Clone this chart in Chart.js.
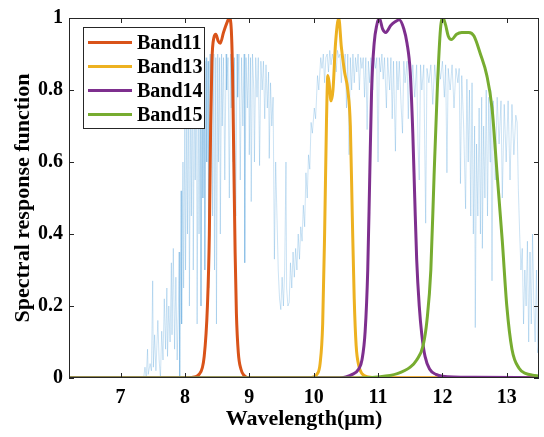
<!DOCTYPE html>
<html>
<head>
<meta charset="utf-8">
<script src="https://cdn.jsdelivr.net/npm/chart.js@4/dist/chart.umd.min.js"></script>
<style>
  html, body { margin: 0; padding: 0; background: #fff; }
  #wrap { width: 544px; height: 437px; }
</style>
</head>
<body>
<div id="wrap"><canvas id="grafico" width="544" height="437"></canvas></div>
<script>
// tick positions
const xTicks = [7, 8, 9, 10, 11, 12, 13];
const yTicks = [0, 0.2, 0.4, 0.6, 0.8, 1];

// atmospheric transmittance (background)
const specWl = [
  6.20, 7.30, 7.36, 7.38, 7.40, 7.42, 7.43, 7.46, 7.48, 7.50,
  7.51, 7.53, 7.55, 7.58, 7.60, 7.62, 7.64, 7.66, 7.68, 7.70,
  7.72, 7.73, 7.75, 7.77, 7.79, 7.80, 7.82, 7.84, 7.86, 7.88,
  7.90, 7.91, 7.92, 7.94, 7.95, 7.97, 7.98, 8.00, 8.01, 8.03,
  8.04, 8.06, 8.07, 8.09, 8.10, 8.12, 8.13, 8.15, 8.16, 8.18,
  8.19, 8.21, 8.22, 8.24, 8.25, 8.27, 8.28, 8.30, 8.31, 8.33,
  8.34, 8.36, 8.37, 8.39, 8.40, 8.42, 8.43, 8.45, 8.46, 8.48,
  8.49, 8.51, 8.52, 8.54, 8.55, 8.57, 8.58, 8.60, 8.62, 8.64,
  8.65, 8.67, 8.69, 8.71, 8.72, 8.74, 8.75, 8.77, 8.79, 8.81,
  8.82, 8.84, 8.86, 8.88, 8.90, 8.92, 8.93, 8.95, 8.97, 8.99,
  9.00, 9.02, 9.03, 9.05, 9.07, 9.08, 9.10, 9.12, 9.14, 9.16,
  9.18, 9.20, 9.22, 9.24, 9.26, 9.28, 9.30, 9.31, 9.33, 9.35,
  9.37, 9.39, 9.41, 9.43, 9.45, 9.47, 9.49, 9.51, 9.53, 9.55,
  9.57, 9.58, 9.60, 9.62, 9.64, 9.66, 9.68, 9.70, 9.72, 9.74,
  9.76, 9.78, 9.80, 9.82, 9.84, 9.86, 9.88, 9.90, 9.92, 9.94,
  9.96, 9.98, 10.01, 10.03, 10.06, 10.08, 10.11, 10.13, 10.15, 10.17,
  10.19, 10.21, 10.23, 10.25, 10.27, 10.29, 10.31, 10.33, 10.35, 10.37,
  10.39, 10.41, 10.43, 10.45, 10.47, 10.49, 10.51, 10.53, 10.55, 10.57,
  10.59, 10.61, 10.63, 10.65, 10.67, 10.69, 10.71, 10.73, 10.75, 10.77,
  10.79, 10.81, 10.83, 10.85, 10.87, 10.89, 10.92, 10.94, 10.96, 10.98,
  11.00, 11.02, 11.04, 11.06, 11.08, 11.10, 11.13, 11.15, 11.18, 11.20,
  11.22, 11.24, 11.27, 11.29, 11.31, 11.33, 11.36, 11.38, 11.40, 11.42,
  11.45, 11.47, 11.49, 11.52, 11.54, 11.57, 11.60, 11.62, 11.64, 11.66,
  11.68, 11.71, 11.74, 11.76, 11.79, 11.82, 11.85, 11.88, 11.91, 11.94,
  11.97, 12.00, 12.03, 12.05, 12.07, 12.09, 12.12, 12.15, 12.18, 12.21,
  12.24, 12.26, 12.28, 12.30, 12.33, 12.36, 12.38, 12.40, 12.42, 12.44,
  12.46, 12.48, 12.50, 12.51, 12.53, 12.55, 12.57, 12.59, 12.61, 12.62,
  12.64, 12.66, 12.68, 12.70, 12.72, 12.74, 12.75, 12.77, 12.79, 12.82,
  12.85, 12.88, 12.91, 12.93, 12.96, 12.99, 13.02, 13.05, 13.08, 13.11,
  13.14, 13.16, 13.18, 13.20, 13.22, 13.24, 13.26, 13.28, 13.30, 13.32,
  13.34, 13.36, 13.38, 13.40, 13.42, 13.44, 13.46, 13.48, 13.50
];
const specT = [
  0, 0, 0, 0.03, 0, 0.08, 0.01, 0.04, 0.02, 0.27,
  0.03, 0.12, 0.02, 0.16, 0.05, 0, 0.13, 0.05, 0.22, 0.08,
  0.25, 0.06, 0.20, 0.10, 0.32, 0.12, 0.36, 0.08, 0.28, 0.05,
  0.20, 0.35, 0, 0.52, 0.15, 0.60, 0.25, 0.71, 0.30, 0.75,
  0.40, 0.80, 0.20, 0.84, 0.45, 0.86, 0.30, 0.87, 0.55, 0.86,
  0.15, 0.87, 0.40, 0.88, 0.20, 0.87, 0.50, 0.88, 0.30, 0.89,
  0.60, 0.88, 0.25, 0.90, 0.70, 0.89, 0.45, 0.90, 0.30, 0.89,
  0.15, 0.90, 0.60, 0.89, 0.40, 0.90, 0.70, 0.89, 0.55, 0.90,
  0.80, 0.89, 0.50, 0.90, 0.75, 0.90, 0.60, 0.89, 0.45, 0.90,
  0.78, 0.90, 0.55, 0.89, 0.70, 0.90, 0.32, 0.89, 0.75, 0.90,
  0.62, 0.89, 0.49, 0.90, 0.80, 0.60, 0.89, 0.78, 0.89, 0.59,
  0.88, 0.80, 0.88, 0.72, 0.87, 0.75, 0.85, 0.61, 0.82, 0.70,
  0.78, 0.33, 0.60, 0.45, 0.30, 0.22, 0.19, 0.28, 0.20, 0.30,
  0.60, 0.25, 0.20, 0.21, 0.32, 0.25, 0.35, 0.28, 0.36, 0.30,
  0.40, 0.33, 0.42, 0.38, 0.48, 0.42, 0.57, 0.50, 0.62, 0.58,
  0.71, 0.68, 0.75, 0.72, 0.84, 0.80, 0.89, 0.86, 0.90, 0.82,
  0.89, 0.90, 0.85, 0.91, 0.87, 0.90, 0.88, 0.90, 0.85, 0.91,
  0.89, 0.90, 0.82, 0.90, 0.87, 0.90, 0.75, 0.90, 0.62, 0.89,
  0.80, 0.90, 0.82, 0.89, 0.85, 0.90, 0.80, 0.89, 0.86, 0.89,
  0.78, 0.89, 0.69, 0.88, 0.82, 0.89, 0.80, 0.89, 0.86, 0.89,
  0.60, 0.89, 0.85, 0.90, 0.83, 0.89, 0.75, 0.89, 0.80, 0.89,
  0.72, 0.88, 0.63, 0.88, 0.80, 0.88, 0.75, 0.68, 0.88, 0.82,
  0.88, 0.72, 0.88, 0.80, 0.87, 0.78, 0.87, 0.65, 0.55, 0.87,
  0.80, 0.87, 0.43, 0.86, 0.82, 0.87, 0.76, 0.87, 0.80, 0.88,
  0.83, 0.88, 0.78, 0.87, 0.57, 0.86, 0.80, 0.87, 0.75, 0.86,
  0.82, 0.86, 0.54, 0.84, 0.70, 0.47, 0.83, 0.60, 0.80, 0.45,
  0.82, 0.40, 0.70, 0.14, 0.65, 0.45, 0.75, 0.40, 0.78, 0.36,
  0.70, 0.50, 0.80, 0.45, 0.78, 0.60, 0.80, 0.27, 0.77, 0.55,
  0.78, 0.65, 0.77, 0.50, 0.76, 0.60, 0.77, 0.55, 0.76, 0.62,
  0.73, 0.71, 0.52, 0.40, 0.30, 0.36, 0.15, 0.30, 0.20, 0.38,
  0.10, 0.35, 0.15, 0.40, 0.20, 0.10, 0.30, 0.07, 0.10
];

// spectral response functions
const band11Wl = [6.2, 8.0, 8.15, 8.22, 8.3, 8.35, 8.38, 8.40, 8.42, 8.45, 8.48, 8.52, 8.55, 8.60, 8.66, 8.69, 8.72, 8.74, 8.76, 8.78, 8.80, 8.83, 8.87, 8.92, 9.0, 13.5];
const band11 = [0, 0, 0.003, 0.01, 0.06, 0.2, 0.4, 0.7, 0.88, 0.945, 0.955, 0.935, 0.93, 0.96, 0.99, 1.0, 0.97, 0.85, 0.6, 0.35, 0.18, 0.07, 0.025, 0.007, 0, 0];

const band13Wl = [6.2, 9.9, 10.0, 10.05, 10.1, 10.14, 10.17, 10.20, 10.22, 10.24, 10.27, 10.30, 10.34, 10.39, 10.43, 10.48, 10.53, 10.57, 10.60, 10.63, 10.66, 10.70, 10.75, 10.85, 11.0, 13.5];
const band13 = [0, 0, 0.003, 0.01, 0.04, 0.15, 0.4, 0.72, 0.84, 0.82, 0.77, 0.8, 0.93, 1.0, 0.92, 0.85, 0.8, 0.7, 0.45, 0.22, 0.09, 0.035, 0.012, 0.003, 0.001, 0];

const band14Wl = [6.2, 10.4, 10.5, 10.6, 10.7, 10.75, 10.8, 10.84, 10.87, 10.90, 10.94, 10.98, 11.02, 11.07, 11.12, 11.2, 11.27, 11.33, 11.4, 11.45, 11.5, 11.54, 11.57, 11.6, 11.64, 11.68, 11.73, 11.8, 11.9, 12.0, 12.5, 13.5];
const band14 = [0, 0, 0.003, 0.01, 0.025, 0.05, 0.13, 0.3, 0.55, 0.8, 0.93, 0.98, 1.0, 0.97, 0.96, 0.98, 0.99, 0.995, 0.97, 0.93, 0.85, 0.68, 0.5, 0.33, 0.2, 0.12, 0.06, 0.025, 0.01, 0.005, 0.002, 0.001];

const band15Wl = [6.2, 10.5, 11.0, 11.3, 11.5, 11.6, 11.7, 11.76, 11.82, 11.87, 11.92, 11.97, 12.01, 12.05, 12.09, 12.14, 12.22, 12.3, 12.41, 12.49, 12.59, 12.69, 12.77, 12.85, 12.93, 13.0, 13.08, 13.19, 13.3, 13.4, 13.5];
const band15 = [0, 0, 0.003, 0.012, 0.03, 0.05, 0.09, 0.16, 0.3, 0.56, 0.8, 0.97, 1.0, 0.98, 0.95, 0.94, 0.955, 0.96, 0.96, 0.95, 0.9, 0.84, 0.75, 0.565, 0.38, 0.2, 0.08, 0.027, 0.012, 0.008, 0.005];

const bandNomes = ["Band11", "Band13", "Band14", "Band15"];
const bandCores = ["#D95319", "#EDB120", "#7E2F8E", "#77AC30"];

function pares(xs, ys) {
    return xs.map((x, i) => ({ x: x, y: ys[i] }));
}

const serif = "'Liberation Serif', 'Times New Roman', serif";

// box around plot with inward ticks (MATLAB style)
const moldura = {
    id: "moldura",
    afterDatasetsDraw(chart) {
        const { ctx, chartArea: a, scales } = chart;
        ctx.save();
        ctx.strokeStyle = "#262626";
        ctx.lineWidth = 1;
        ctx.strokeRect(a.left + 0.5, a.top + 0.5, a.right - a.left - 1, a.bottom - a.top - 1);
        ctx.beginPath();
        xTicks.forEach(v => {
            const px = Math.round(scales.x.getPixelForValue(v)) + 0.5;
            ctx.moveTo(px, a.bottom); ctx.lineTo(px, a.bottom - 5);
            ctx.moveTo(px, a.top); ctx.lineTo(px, a.top + 5);
        });
        yTicks.forEach(v => {
            const py = Math.round(scales.y.getPixelForValue(v)) + 0.5;
            ctx.moveTo(a.left, py); ctx.lineTo(a.left + 5, py);
            ctx.moveTo(a.right, py); ctx.lineTo(a.right - 5, py);
        });
        ctx.stroke();
        ctx.restore();
    }
};

// legend box inside the plot, upper left
const legenda = {
    id: "legenda",
    afterDraw(chart) {
        const ctx = chart.ctx;
        const bx = 83, by = 27, bw = 121, bh = 101;
        ctx.save();
        ctx.fillStyle = "#fff";
        ctx.fillRect(bx, by, bw, bh);
        ctx.strokeStyle = "#262626";
        ctx.lineWidth = 1;
        ctx.strokeRect(bx + 0.5, by + 0.5, bw, bh);
        ctx.font = "bold 20px " + serif;
        ctx.textBaseline = "middle";
        ctx.fillStyle = "#000";
        bandNomes.forEach((nome, i) => {
            const y = 42.5 + i * 24;
            ctx.strokeStyle = bandCores[i];
            ctx.lineWidth = 3;
            ctx.beginPath();
            ctx.moveTo(88, y); ctx.lineTo(132, y);
            ctx.stroke();
            ctx.fillText(nome, 137, y + 1);
        });
        ctx.restore();
    }
};

const bandDados = [pares(band11Wl, band11), pares(band13Wl, band13), pares(band14Wl, band14), pares(band15Wl, band15)];

const datasets = [{
    label: "Transmittance",
    data: pares(specWl, specT),
    borderColor: "rgba(60,150,215,0.38)",
    borderWidth: 0.7,
    pointRadius: 0,
    tension: 0,
    order: 10
}];
bandDados.forEach((d, i) => {
    datasets.push({
        label: bandNomes[i],
        data: d,
        borderColor: bandCores[i],
        borderWidth: 3,
        pointRadius: 0,
        cubicInterpolationMode: "monotone",
        order: 4 - i
    });
});

const ctx = document.getElementById("grafico").getContext("2d");
new Chart(ctx, {
    type: "line",
    data: { datasets: datasets },
    options: {
        responsive: false,
        animation: false,
        devicePixelRatio: 1,
        layout: { padding: { top: 13, right: 5, left: 0, bottom: 0 } },
        plugins: { legend: { display: false }, tooltip: { enabled: false } },
        scales: {
            x: {
                type: "linear",
                min: 6.2,
                max: 13.5,
                grid: { display: false, drawTicks: false },
                border: { display: false },
                afterBuildTicks: s => { s.ticks = xTicks.map(v => ({ value: v })); },
                afterFit: s => { s.height = 59; },
                ticks: {
                    color: "#000",
                    padding: 8,
                    maxRotation: 0,
                    font: { family: serif, weight: "bold", size: 20 },
                    callback: v => String(v)
                },
                title: {
                    display: true,
                    text: "Wavelength(μm)",
                    color: "#000",
                    padding: { top: 0, bottom: 4 },
                    font: { family: serif, weight: "bold", size: 22 }
                }
            },
            y: {
                type: "linear",
                min: 0,
                max: 1,
                grid: { display: false, drawTicks: false },
                border: { display: false },
                afterBuildTicks: s => { s.ticks = yTicks.map(v => ({ value: v })); },
                afterFit: s => { s.width = 69; },
                ticks: {
                    color: "#000",
                    padding: 6,
                    font: { family: serif, weight: "bold", size: 20 },
                    callback: v => String(Math.round(v * 10) / 10)
                },
                title: {
                    display: true,
                    text: "Spectral response function",
                    color: "#000",
                    padding: { top: 10, bottom: 0 },
                    font: { family: serif, weight: "bold", size: 22 }
                }
            }
        }
    },
    plugins: [moldura, legenda]
});
</script>
</body>
</html>
